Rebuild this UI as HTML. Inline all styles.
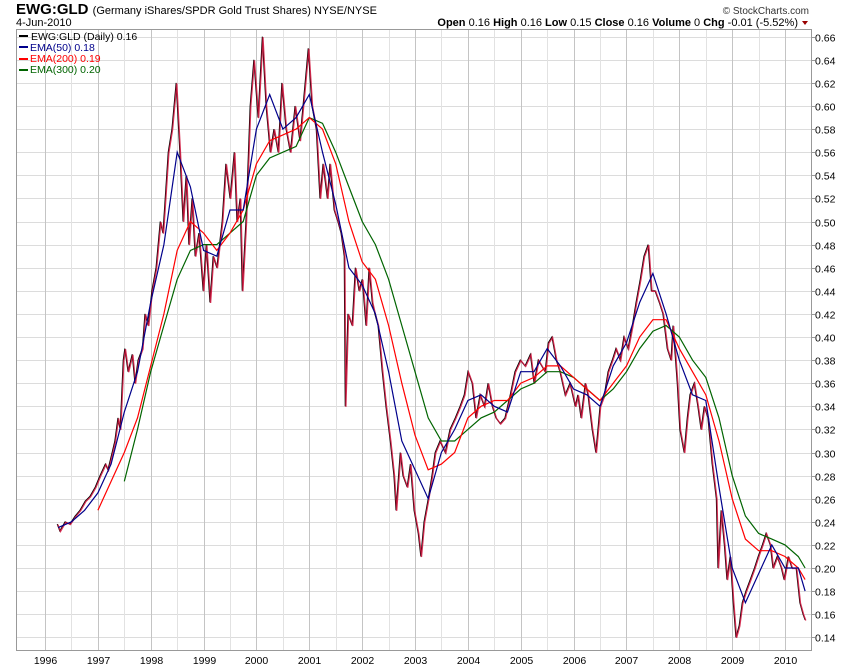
<!DOCTYPE html>
<html><head><meta charset="utf-8"><style>
body{margin:0;background:#fff;width:850px;height:668px;overflow:hidden;font-family:"Liberation Sans",sans-serif}
svg{position:absolute;left:0;top:0}
</style></head><body>
<svg id="c" width="850" height="668">
<text x="16" y="14" font-size="15" font-weight="bold" fill="#000">EWG:GLD <tspan font-size="11" font-weight="normal">(Germany iShares/SPDR Gold Trust Shares) NYSE/NYSE</tspan></text>
<text x="16" y="26" font-size="11" fill="#000">4-Jun-2010</text>
<text x="809" y="14" font-size="10" text-anchor="end" fill="#333">© StockCharts.com</text>
<text x="798" y="26" font-size="11" text-anchor="end" fill="#000"><tspan font-weight="bold">Open</tspan> 0.16 <tspan font-weight="bold">High</tspan> 0.16 <tspan font-weight="bold">Low</tspan> 0.15 <tspan font-weight="bold">Close</tspan> 0.16 <tspan font-weight="bold">Volume</tspan> 0 <tspan font-weight="bold">Chg</tspan> -0.01 (-5.52%)</text>
<path d="M802 21 L808 21 L805 25 Z" fill="#900"/>
<g id="grid"></g><g id="series"></g>
<rect x="16.5" y="29.5" width="795" height="621" fill="none" stroke="#999"/>
<g id="axes"></g>
<g font-size="10.5">
<g><rect x="19" y="35" width="9" height="2" fill="#000"/><text x="31" y="40" fill="#000">EWG:GLD (Daily) 0.16</text></g>
<g><rect x="19" y="46" width="9" height="2" fill="#00008b"/><text x="30" y="51" fill="#00008b">EMA(50) 0.18</text></g>
<g><rect x="19" y="58" width="9" height="2" fill="#f00"/><text x="30" y="62" fill="#f00">EMA(200) 0.19</text></g>
<g><rect x="19" y="69" width="9" height="2" fill="#006400"/><text x="30" y="73" fill="#006400">EMA(300) 0.20</text></g>
</g>
</svg>
<script>
const priceDates=[1996.23,1996.28,1996.38,1996.47,1996.57,1996.66,1996.76,1996.85,1996.95,1997.04,1997.14,1997.19,1997.27,1997.32,1997.38,1997.42,1997.48,1997.51,1997.57,1997.65,1997.70,1997.76,1997.84,1997.89,1997.95,1998.02,1998.10,1998.18,1998.23,1998.33,1998.40,1998.48,1998.55,1998.61,1998.67,1998.72,1998.78,1998.84,1998.91,1998.99,1999.05,1999.12,1999.18,1999.25,1999.35,1999.42,1999.50,1999.58,1999.63,1999.69,1999.73,1999.80,1999.88,1999.95,2000.03,2000.11,2000.18,2000.26,2000.33,2000.41,2000.48,2000.56,2000.64,2000.73,2000.82,2000.92,2000.98,2001.05,2001.13,2001.20,2001.26,2001.34,2001.39,2001.47,2001.54,2001.60,2001.66,2001.68,2001.73,2001.81,2001.87,2001.94,2002.00,2002.07,2002.13,2002.19,2002.24,2002.30,2002.38,2002.45,2002.53,2002.60,2002.64,2002.72,2002.77,2002.85,2002.91,2002.98,2003.06,2003.11,2003.17,2003.25,2003.32,2003.38,2003.47,2003.57,2003.66,2003.76,2003.85,2003.93,2004.00,2004.08,2004.15,2004.23,2004.31,2004.38,2004.46,2004.53,2004.61,2004.70,2004.80,2004.89,2004.99,2005.08,2005.18,2005.25,2005.33,2005.46,2005.52,2005.59,2005.67,2005.74,2005.84,2005.93,2006.03,2006.08,2006.14,2006.22,2006.27,2006.35,2006.42,2006.50,2006.58,2006.65,2006.73,2006.80,2006.88,2006.95,2007.03,2007.11,2007.18,2007.26,2007.33,2007.41,2007.47,2007.54,2007.62,2007.69,2007.77,2007.84,2007.88,2007.96,2008.01,2008.09,2008.15,2008.20,2008.28,2008.35,2008.41,2008.47,2008.54,2008.62,2008.70,2008.73,2008.79,2008.85,2008.90,2008.96,2009.02,2009.07,2009.13,2009.19,2009.26,2009.34,2009.42,2009.49,2009.57,2009.64,2009.72,2009.77,2009.85,2009.93,2009.98,2010.06,2010.13,2010.21,2010.28,2010.34,2010.38];
const priceValues=[0.238,0.232,0.24,0.238,0.245,0.25,0.258,0.262,0.27,0.28,0.29,0.285,0.30,0.31,0.33,0.32,0.38,0.39,0.37,0.385,0.36,0.38,0.39,0.42,0.41,0.44,0.46,0.50,0.49,0.56,0.58,0.62,0.56,0.50,0.54,0.48,0.52,0.47,0.49,0.44,0.48,0.43,0.47,0.46,0.50,0.55,0.52,0.56,0.50,0.52,0.44,0.50,0.60,0.64,0.59,0.66,0.60,0.56,0.58,0.56,0.62,0.58,0.56,0.60,0.57,0.62,0.65,0.60,0.58,0.52,0.55,0.52,0.55,0.51,0.50,0.49,0.47,0.34,0.42,0.41,0.46,0.44,0.45,0.41,0.46,0.43,0.42,0.41,0.37,0.34,0.31,0.28,0.25,0.30,0.28,0.27,0.29,0.25,0.23,0.21,0.24,0.26,0.28,0.30,0.31,0.30,0.32,0.33,0.34,0.35,0.37,0.36,0.33,0.35,0.34,0.36,0.34,0.33,0.325,0.33,0.35,0.37,0.38,0.375,0.385,0.36,0.38,0.37,0.395,0.40,0.38,0.37,0.35,0.36,0.34,0.35,0.33,0.36,0.35,0.32,0.30,0.34,0.35,0.37,0.38,0.39,0.38,0.40,0.39,0.41,0.43,0.45,0.47,0.48,0.44,0.44,0.43,0.42,0.39,0.38,0.41,0.36,0.32,0.30,0.33,0.35,0.36,0.34,0.32,0.34,0.33,0.29,0.26,0.20,0.25,0.22,0.19,0.21,0.17,0.14,0.15,0.17,0.18,0.19,0.20,0.21,0.22,0.23,0.22,0.20,0.21,0.20,0.19,0.21,0.20,0.20,0.17,0.16,0.155];
const emaStart=1996.25, emaStep=0.25, emaLastDate=2010.38;
const ema50=[0.235,0.24,0.25,0.265,0.29,0.335,0.37,0.43,0.48,0.56,0.53,0.475,0.47,0.51,0.51,0.58,0.61,0.58,0.59,0.61,0.56,0.515,0.46,0.445,0.42,0.37,0.31,0.285,0.26,0.30,0.32,0.345,0.35,0.34,0.335,0.37,0.37,0.39,0.375,0.355,0.35,0.34,0.375,0.395,0.43,0.455,0.42,0.38,0.35,0.345,0.27,0.20,0.17,0.195,0.22,0.20,0.20,0.18];
const ema200=[null,null,null,0.25,0.275,0.30,0.33,0.375,0.42,0.475,0.50,0.49,0.475,0.49,0.51,0.55,0.57,0.575,0.58,0.59,0.58,0.55,0.50,0.465,0.45,0.41,0.36,0.315,0.285,0.29,0.30,0.33,0.34,0.345,0.345,0.36,0.365,0.375,0.375,0.365,0.355,0.345,0.36,0.375,0.40,0.415,0.415,0.39,0.37,0.35,0.31,0.26,0.225,0.215,0.215,0.21,0.20,0.19];
const ema300=[null,null,null,null,null,0.275,0.32,0.37,0.41,0.45,0.475,0.48,0.48,0.49,0.50,0.54,0.555,0.56,0.565,0.59,0.585,0.56,0.53,0.50,0.48,0.45,0.41,0.37,0.33,0.31,0.31,0.32,0.33,0.335,0.345,0.355,0.36,0.37,0.37,0.365,0.355,0.345,0.355,0.37,0.39,0.405,0.41,0.40,0.38,0.365,0.33,0.28,0.245,0.23,0.225,0.22,0.21,0.20];
const yTicks=[0.14,0.16,0.18,0.20,0.22,0.24,0.26,0.28,0.30,0.32,0.34,0.36,0.38,0.40,0.42,0.44,0.46,0.48,0.50,0.52,0.54,0.56,0.58,0.60,0.62,0.64,0.66];
const xTicks=[1996,1997,1998,1999,2000,2001,2002,2003,2004,2005,2006,2007,2008,2009,2010];

const NS='http://www.w3.org/2000/svg';
const X=d=>45+(d-1996)*52.86;
const Y=v=>36.7+(0.66-v)*1155;
function mk(tag,attrs,parent){const e=document.createElementNS(NS,tag);for(const k in attrs)e.setAttribute(k,attrs[k]);parent.appendChild(e);return e;}
const grid=document.getElementById('grid'),axes=document.getElementById('axes'),ser=document.getElementById('series');
yTicks.forEach(v=>{
 const y=Math.round(Y(v))+0.5;
 const l=mk('line',{x1:17,x2:811,y1:y,y2:y,stroke:'#dcdcdc'},grid);
 
 
 mk('line',{x1:811,x2:815,y1:y,y2:y,stroke:'#999'},axes);
 const t=mk('text',{x:815,y:y+4,'font-size':'10.5',fill:'#000'},axes);
 t.textContent=v.toFixed(2);
 
 
});
xTicks.forEach(yr=>{
 const x=Math.round(X(yr))+0.5;
 const l=mk('line',{x1:x,x2:x,y1:30,y2:650,stroke:'#c4c4c4'},grid);
 
 
 const hx=Math.round(X(yr+0.5))+0.5;
 if(hx<811){const h=mk('line',{x1:hx,x2:hx,y1:30,y2:650,stroke:'#e2e2e2'},grid);
 
 }
 const t=mk('text',{x:x,y:664,'font-size':'10.5','text-anchor':'middle',fill:'#000'},axes);
 t.textContent=yr;
 
 
});
function path(dates,vals){let d='',pen=false;vals.forEach((v,i)=>{if(v==null){pen=false;return;}d+=(pen?'L':'M')+X(dates[i]).toFixed(1)+' '+Y(v).toFixed(1);pen=true;});return d;}
const emaDates=ema50.map((_,i)=>i<ema50.length-1?emaStart+i*emaStep:emaLastDate);
const pb=mk('path',{d:path(priceDates,priceValues),fill:'none',stroke:'#000','stroke-width':1},ser);


const pr=mk('path',{d:path(priceDates,priceValues),fill:'none',stroke:'#d0103a','stroke-width':1.3,'stroke-opacity':0.85,transform:'translate(0.7,0.5)'},ser);


const g3=mk('path',{d:path(emaDates,ema300),fill:'none',stroke:'#006400','stroke-width':1.2},ser);


const g2=mk('path',{d:path(emaDates,ema200),fill:'none',stroke:'#f00','stroke-width':1.2},ser);


const g1=mk('path',{d:path(emaDates,ema50),fill:'none',stroke:'#00008b','stroke-width':1.2},ser);


</script>
</body></html>
